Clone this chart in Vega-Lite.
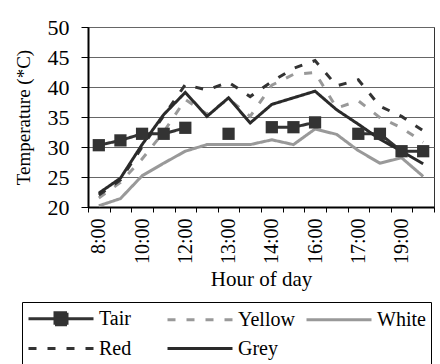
{
  "$schema": "https://vega.github.io/schema/vega-lite/v6.json",
  "width": 346,
  "height": 180,
  "autosize": "none",
  "padding": {"left": 88, "top": 27, "right": 6, "bottom": 157},
  "background": "white",
  "config": {
    "font": "Liberation Serif",
    "view": {"stroke": "#333", "strokeWidth": 1},
    "axis": {"labelColor": "black", "titleColor": "black", "labelFont": "Liberation Serif", "titleFont": "Liberation Serif", "titleFontWeight": "normal"},
    "legend": {"labelFont": "Liberation Serif"}
  },
  "data": {
    "values": [
      {"hour": "8:00", "series": "Tair", "temp": 30.3},
      {"hour": "9:00", "series": "Tair", "temp": 31.1},
      {"hour": "10:00", "series": "Tair", "temp": 32.2},
      {"hour": "11:00", "series": "Tair", "temp": 32.2},
      {"hour": "12:00", "series": "Tair", "temp": 33.2},
      {"hour": "12:30", "series": "Tair", "temp": null},
      {"hour": "13:00", "series": "Tair", "temp": 32.2},
      {"hour": "13:30", "series": "Tair", "temp": null},
      {"hour": "14:00", "series": "Tair", "temp": 33.3},
      {"hour": "15:00", "series": "Tair", "temp": 33.3},
      {"hour": "16:00", "series": "Tair", "temp": 34.1},
      {"hour": "16:30", "series": "Tair", "temp": null},
      {"hour": "17:00", "series": "Tair", "temp": 32.2},
      {"hour": "18:00", "series": "Tair", "temp": 32.2},
      {"hour": "19:00", "series": "Tair", "temp": 29.3},
      {"hour": "20:00", "series": "Tair", "temp": 29.3},
      {"hour": "8:00", "series": "Yellow", "temp": 21.5},
      {"hour": "9:00", "series": "Yellow", "temp": 24.1},
      {"hour": "10:00", "series": "Yellow", "temp": 28},
      {"hour": "11:00", "series": "Yellow", "temp": 32.5},
      {"hour": "12:00", "series": "Yellow", "temp": 37.9},
      {"hour": "12:30", "series": "Yellow", "temp": 35.5},
      {"hour": "13:00", "series": "Yellow", "temp": 38},
      {"hour": "13:30", "series": "Yellow", "temp": 35.1},
      {"hour": "14:00", "series": "Yellow", "temp": 40.3},
      {"hour": "15:00", "series": "Yellow", "temp": 42.1},
      {"hour": "16:00", "series": "Yellow", "temp": 42.4},
      {"hour": "16:30", "series": "Yellow", "temp": 36.5},
      {"hour": "17:00", "series": "Yellow", "temp": 37.7},
      {"hour": "18:00", "series": "Yellow", "temp": 34.9},
      {"hour": "19:00", "series": "Yellow", "temp": 33.2},
      {"hour": "20:00", "series": "Yellow", "temp": 30.8},
      {"hour": "8:00", "series": "White", "temp": 20.2},
      {"hour": "9:00", "series": "White", "temp": 21.4},
      {"hour": "10:00", "series": "White", "temp": 25.2},
      {"hour": "11:00", "series": "White", "temp": 27.3},
      {"hour": "12:00", "series": "White", "temp": 29.3},
      {"hour": "12:30", "series": "White", "temp": 30.4},
      {"hour": "13:00", "series": "White", "temp": 30.4},
      {"hour": "13:30", "series": "White", "temp": 30.4},
      {"hour": "14:00", "series": "White", "temp": 31.2},
      {"hour": "15:00", "series": "White", "temp": 30.4},
      {"hour": "16:00", "series": "White", "temp": 33},
      {"hour": "16:30", "series": "White", "temp": 32.1},
      {"hour": "17:00", "series": "White", "temp": 29.4},
      {"hour": "18:00", "series": "White", "temp": 27.3},
      {"hour": "19:00", "series": "White", "temp": 28.2},
      {"hour": "20:00", "series": "White", "temp": 25.1},
      {"hour": "8:00", "series": "Red", "temp": 22},
      {"hour": "9:00", "series": "Red", "temp": 24.5},
      {"hour": "10:00", "series": "Red", "temp": 30},
      {"hour": "11:00", "series": "Red", "temp": 35.2},
      {"hour": "12:00", "series": "Red", "temp": 40.4},
      {"hour": "12:30", "series": "Red", "temp": 39.5},
      {"hour": "13:00", "series": "Red", "temp": 40.8},
      {"hour": "13:30", "series": "Red", "temp": 38.4},
      {"hour": "14:00", "series": "Red", "temp": 40.9},
      {"hour": "15:00", "series": "Red", "temp": 43.1},
      {"hour": "16:00", "series": "Red", "temp": 44.4},
      {"hour": "16:30", "series": "Red", "temp": 40.2},
      {"hour": "17:00", "series": "Red", "temp": 41.2},
      {"hour": "18:00", "series": "Red", "temp": 36.8},
      {"hour": "19:00", "series": "Red", "temp": 35.1},
      {"hour": "20:00", "series": "Red", "temp": 32.7},
      {"hour": "8:00", "series": "Grey", "temp": 22.3},
      {"hour": "9:00", "series": "Grey", "temp": 24.8},
      {"hour": "10:00", "series": "Grey", "temp": 30.4},
      {"hour": "11:00", "series": "Grey", "temp": 35.4},
      {"hour": "12:00", "series": "Grey", "temp": 39.1},
      {"hour": "12:30", "series": "Grey", "temp": 35.1},
      {"hour": "13:00", "series": "Grey", "temp": 38.2},
      {"hour": "13:30", "series": "Grey", "temp": 34},
      {"hour": "14:00", "series": "Grey", "temp": 37.1},
      {"hour": "15:00", "series": "Grey", "temp": 38.2},
      {"hour": "16:00", "series": "Grey", "temp": 39.3},
      {"hour": "16:30", "series": "Grey", "temp": 36.2},
      {"hour": "17:00", "series": "Grey", "temp": 33.8},
      {"hour": "18:00", "series": "Grey", "temp": 31.3},
      {"hour": "19:00", "series": "Grey", "temp": 29.3},
      {"hour": "20:00", "series": "Grey", "temp": 27.2}
    ]
  },
  "encoding": {
    "x": {
      "field": "hour",
      "type": "ordinal",
      "scale": {"type": "band", "paddingInner": 0, "paddingOuter": 0,
        "domain": ["8:00","9:00","10:00","11:00","12:00","12:30","13:00","13:30","14:00","15:00","16:00","16:30","17:00","18:00","19:00","20:00"]},
      "axis": {
        "title": "Hour of day",
        "titleFont": "Liberation Serif",
        "titleFontSize": 21,
        "titleY": 61,
        "titleBaseline": "top",
        "labelFont": "Liberation Serif",
        "labelAngle": -90,
        "labelFontSize": 20,
        "labelPadding": 6,
        "labelOverlap": false,
        "labelExpr": "indexof(['8:00','10:00','12:00','13:00','14:00','16:00','17:00','19:00'], datum.value) >= 0 ? datum.label : ''",
        "tickBand": "extent",
        "tickSize": 5,
        "tickColor": "black",
        "domainColor": "black",
        "domainWidth": 2,
        "grid": false
      }
    },
    "y": {
      "field": "temp",
      "type": "quantitative",
      "scale": {"domain": [20, 50], "nice": false},
      "axis": {
        "title": "Temperature (*C)",
        "titleFont": "Liberation Serif",
        "titleFontSize": 19,
        "titlePadding": 14,
        "values": [20, 25, 30, 35, 40, 45, 50],
        "grid": true,
        "gridColor": "#666",
        "gridWidth": 1,
        "domainColor": "black",
        "domainWidth": 2,
        "tickColor": "black",
        "tickSize": 7,
        "labelFont": "Liberation Serif",
        "labelFontSize": 22,
        "labelPadding": 12,
        "labelOverlap": false
      }
    }
  },
  "layer": [
    {
      "mark": {"type": "line", "strokeWidth": 3},
      "encoding": {
        "color": {
          "field": "series",
          "type": "nominal",
          "scale": {"domain": ["Tair", "Yellow", "White", "Red", "Grey"], "range": ["#333333", "#999999", "#999999", "#333333", "#2a2a2a"]},
          "legend": {
            "title": null,
            "orient": "none",
            "legendX": -66,
            "legendY": 275,
            "direction": "horizontal",
            "columns": 3,
            "gridAlign": "all",
            "symbolType": "M-1,0H5.5",
            "symbolSize": 400,
            "symbolStrokeWidth": 3,
            "labelFontSize": 20,
            "labelFont": "Liberation Serif",
            "labelColor": "black",
            "labelOffset": 49,
            "columnPadding": 5,
            "rowPadding": 6,
            "padding": 5,
            "strokeColor": "black",
            "fillColor": "white",
            "encode": {
              "symbols": {
                "update": {
                  "shape": {"signal": "datum.value === 'Tair' ? 'M-1,0H5.5M1.65,-0.6H2.85V0.6H1.65Z' : 'M-1,0H5.5'"},
                  "fill": {"signal": "datum.value === 'Tair' ? '#333333' : 'transparent'"}
                }
              }
            }
          }
        },
        "strokeDash": {
          "field": "series",
          "type": "nominal",
          "scale": {"domain": ["Tair", "Yellow", "White", "Red", "Grey"], "range": [[1, 0], [8, 11], [1, 0], [8, 11], [1, 0]]}
        }
      }
    },
    {
      "transform": [{"filter": "datum.series === 'Tair' && isValid(datum.temp)"}],
      "mark": {"type": "square", "size": 150, "color": "#333333", "opacity": 1}
    }
  ]
}
